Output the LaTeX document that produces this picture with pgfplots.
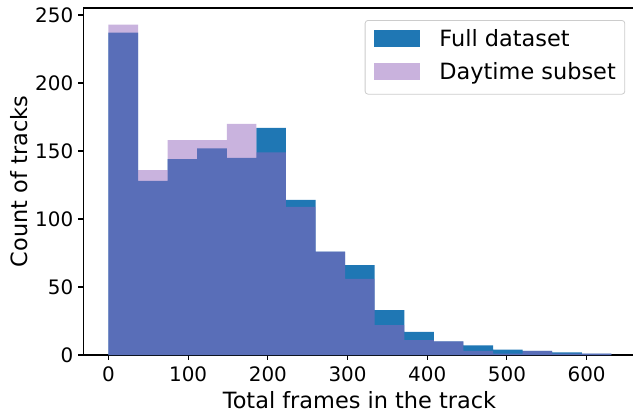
\documentclass[border=0pt]{standalone}
\usepackage{fontspec}
\setmainfont{DejaVu Sans}
\usepackage{pgfplots}
\pgfplotsset{compat=1.18}
\definecolor{fullc}{HTML}{1F77B4}
\definecolor{dayc}{HTML}{9467BD}
\begin{document}
\begin{tikzpicture}
\begin{axis}[
  scale only axis,
  width=552.4bp, height=347bp,
  xmin=-31.55, xmax=661.55,
  ymin=0, ymax=255.15,
  xtick={0,100,200,300,400,500,600},
  ytick={0,50,100,150,200,250},
  tick pos=left,
  tick align=outside,
  major tick length=4.9bp,
  every tick/.style={black, line width=1.1bp},
  axis line style={black, line width=1.1bp},
  /pgf/number format/assume math mode=true,
  ticklabel style={font=\fontsize{20}{24}\selectfont},
  xticklabel style={inner sep=0pt, anchor=north, yshift=-7bp},
  yticklabel style={inner sep=0pt, anchor=east, xshift=-5bp},
  xlabel={Total frames in the track},
  ylabel={Count of tracks},
  label style={font=\fontsize{22.5}{27}\selectfont},
  xlabel style={at={(axis description cs:0.5,0)}, anchor=base, yshift=-53bp, inner sep=0pt},
  ylabel style={at={(axis description cs:0,0.5)}, anchor=base, yshift=55.8bp, inner sep=0pt},
  legend cell align=left,
  legend style={at={(0.981,0.9654)}, anchor=north east,
    draw=black!20, rounded corners=3bp, fill=white, line width=0.8bp,
    font=\fontsize{22.5}{27}\selectfont,
    inner xsep=9bp, inner ysep=9.5bp, row sep=11.8bp,
    nodes={inner sep=0pt, text height=16.4bp, text depth=4.8bp},
    /tikz/every odd column/.append style={column sep=19.3bp}},
  legend image code/.code={\fill[#1, sharp corners] (0bp,-5.8bp) rectangle (46bp,10.9bp);},
]
\addplot[ybar interval, fill=fullc, draw=none] coordinates {
(0,237) (37.1,128) (74.2,144) (111.4,152) (148.5,145) (185.6,167)
(222.7,114) (259.8,76) (296.9,66) (334.1,33) (371.2,17) (408.3,10)
(445.4,7) (482.5,4) (519.6,3) (556.8,2) (593.9,1) (631,0)
};
\addlegendentry{Full dataset}
\addplot[ybar interval, fill=dayc, fill opacity=0.5, draw=none] coordinates {
(0,243) (37.1,136) (74.2,158) (111.4,158) (148.5,170) (185.6,149)
(222.7,109) (259.8,76) (296.9,56) (334.1,22) (371.2,11) (408.3,10)
(445.4,3) (482.5,1) (519.6,3) (556.8,1) (593.9,1) (631,0)
};
\addlegendentry{Daytime subset}
\end{axis}
\pgfresetboundingbox
\path[use as bounding box] (current axis.south west) ++(-83.3bp,-58bp) rectangle ++(633bp,413bp);
\end{tikzpicture}
\end{document}
